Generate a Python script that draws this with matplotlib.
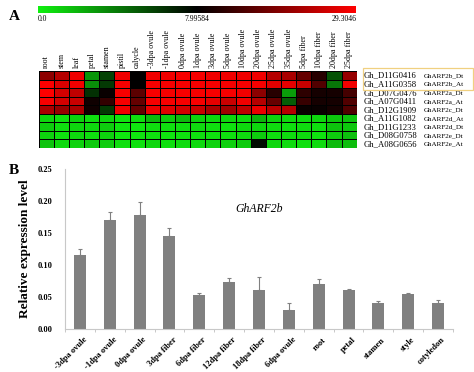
import numpy as np
import matplotlib
matplotlib.use("Agg")
import matplotlib.pyplot as plt
from matplotlib.colors import LinearSegmentedColormap, TwoSlopeNorm
from matplotlib.patches import Rectangle

plt.rcParams["font.family"] = ["Liberation Serif", "DejaVu Serif"]

# Panel A : heatmap
tissus = ["root", "stem", "leaf", "petal", "stamen", "pistil", "calycle",
          "-3dpa ovule", "-1dpa ovule", "0dpa ovule", "1dpa ovule", "3dpa ovule",
          "5dpa ovule", "10dpa ovule", "20dpa ovule", "25dpa ovule", "35dpa ovule",
          "5dpa fiber", "10dpa fiber", "20dpa fiber", "25dpa fiber"]
genes = ["Gh_D11G0416", "Gh_A11G0358", "Gh_D07G0476", "Gh_A07G0411", "Gh_D12G1909",
         "Gh_A11G1082", "Gh_D11G1233", "Gh_D08G0758", "Gh_A08G0656"]
noms = ["GhARF2b_Dt", "GhARF2b_At", "GhARF2a_Dt", "GhARF2a_At", "GhARF2c_Dt",
        "GhARF2d_At", "GhARF2d_Dt", "GhARF2e_Dt", "GhARF2e_At"]
expr = np.array([
    [19.7, 23.0, 28.0, 3.0, 5.8, 28.0, 8.0, 28.0, 28.0, 28.5, 28.5, 28.0, 28.0, 28.0, 28.0, 23.0, 22.0, 16.4, 11.3, 5.3, 20.5],
    [29.0, 26.4, 28.0, 3.3, 6.1, 28.5, 8.0, 28.5, 28.5, 28.5, 28.5, 28.5, 28.5, 28.5, 28.5, 26.8, 27.2, 24.7, 14.7, 4.1, 28.0],
    [29.0, 25.5, 23.9, 6.4, 8.8, 28.5, 15.5, 28.5, 28.5, 28.5, 28.5, 28.5, 28.5, 28.0, 19.7, 11.3, 2.8, 11.8, 9.7, 9.7, 13.8],
    [28.5, 25.5, 24.7, 9.3, 12.2, 28.5, 16.4, 28.5, 28.5, 28.5, 28.5, 27.2, 24.7, 28.0, 23.0, 16.4, 4.9, 12.6, 9.7, 9.7, 14.7],
    [22.2, 20.5, 22.2, 9.3, 6.1, 28.0, 16.4, 27.6, 26.8, 25.5, 24.7, 22.2, 21.4, 23.9, 27.6, 23.4, 23.0, 8.8, 8.8, 9.7, 14.7],
    [0.9, 0.5, 1.0, 0.6, 0.9, 0.4, 0.6, 1.8, 1.2, 1.8, 1.0, 0.8, 0.9, 0.7, 2.0, 1.0, 0.8, 0.7, 0.9, 1.4, 1.5],
    [1.2, 0.6, 0.9, 0.8, 1.2, 0.4, 0.3, 0.6, 0.5, 0.6, 0.7, 0.6, 0.5, 0.8, 0.9, 0.7, 0.6, 0.7, 0.6, 1.5, 1.4],
    [1.0, 0.5, 0.8, 0.6, 1.0, 0.3, 0.4, 0.5, 0.4, 0.5, 0.6, 0.5, 0.6, 0.7, 1.2, 0.6, 0.7, 0.8, 0.5, 1.2, 1.6],
    [1.5, 0.8, 1.0, 1.3, 1.2, 0.6, 0.5, 0.9, 0.6, 0.7, 0.8, 1.0, 1.1, 1.3, 7.6, 0.9, 0.7, 0.6, 0.7, 1.8, 1.7],
])
vmin, vmid, vmax = 0.0, 7.99584, 29.3046

# Panel B : barres
echantillons = ["-3dpa ovule", "-1dpa ovule", "0dpa ovule", "3dpa fiber", "6dpa fiber",
                "12dpa fiber", "18dpa fiber", "6dpa ovule", "root", "petal", "stamen",
                "style", "cotyledon"]
niveau = [0.116, 0.170, 0.178, 0.146, 0.053, 0.074, 0.061, 0.030, 0.070, 0.061, 0.040, 0.054, 0.040]
erreur = [0.009, 0.013, 0.021, 0.012, 0.004, 0.005, 0.021, 0.010, 0.008, 0.001, 0.003, 0.003, 0.005]

W, H = 474, 372
fig = plt.figure(figsize=(W / 100, H / 100), dpi=100)


def boite(x0, y0, x1, y1):
    # pixels (haut-gauche) -> fraction figure
    return [x0 / W, 1 - y1 / H, (x1 - x0) / W, (y1 - y0) / H]


cmap = LinearSegmentedColormap.from_list("gnr", ["#10f010", "#000000", "#ff0000"])
norm = TwoSlopeNorm(vcenter=vmid, vmin=vmin, vmax=vmax)

# barre de couleur
ax_cb = fig.add_axes(boite(38, 6, 356, 13))
ax_cb.imshow(np.linspace(0, 1, 256)[None, :], aspect="auto", cmap=cmap)
ax_cb.set_axis_off()
fig.text(38 / W, 1 - 19 / H, "0.0", fontsize=5.5, va="center", ha="left")
fig.text(197 / W, 1 - 19 / H, "7.99584", fontsize=5.5, va="center", ha="center")
fig.text(357 / W, 1 - 19 / H, "29.3046", fontsize=5.5, va="center", ha="right")

# heatmap
ax_h = fig.add_axes(boite(38.7, 71, 356.7, 148))
ax_h.pcolormesh(expr, cmap=cmap, norm=norm, edgecolors="black", linewidth=0.6)
ax_h.set_xlim(0, len(tissus))
ax_h.set_ylim(len(genes), 0)
ax_h.set_xticks(np.arange(len(tissus)) + 0.5)
ax_h.set_xticklabels(tissus, rotation=90, fontsize=5.8)
ax_h.xaxis.tick_top()
ax_h.tick_params(axis="x", length=0, pad=2)
ax_h.set_yticks([])
for s in ax_h.spines.values():
    s.set_visible(False)

for i, (g, n) in enumerate(zip(genes, noms)):
    ax_h.text(len(tissus) + 0.45, i + 0.55, g, fontsize=6.2, va="center", ha="left")
    ax_h.text(len(tissus) + 4.45, i + 0.55, n, fontsize=5.1, va="center", ha="left")

fig.patches.append(Rectangle((363 / W, 1 - 90 / H), 110 / W, 22 / H, transform=fig.transFigure,
                             fill=False, edgecolor="#f0d080", linewidth=0.9))

fig.text(14 / W, 1 - 17 / H, "A", fontsize=11, fontweight="bold", ha="center", va="center")
fig.text(14 / W, 1 - 170 / H, "B", fontsize=11, fontweight="bold", ha="center", va="center")

# barres
ax = fig.add_axes(boite(65, 169, 453, 329))
x = np.arange(len(echantillons))
ax.bar(x, niveau, width=0.4, color="#808080", zorder=2)
ax.errorbar(x, niveau, yerr=[np.zeros(len(erreur)), erreur], fmt="none", ecolor="#808080",
            elinewidth=0.8, capsize=1.5, capthick=0.8, zorder=2)
ax.set_xlim(-0.5, len(echantillons) - 0.5)
ax.set_ylim(0, 0.25)
ax.set_yticks([0, 0.05, 0.10, 0.15, 0.20, 0.25])
ax.set_yticklabels(["0.00", "0.05", "0.10", "0.15", "0.20", "0.25"], fontsize=6, fontweight="bold")
ax.tick_params(axis="y", length=0, pad=9)
ax.set_xticks(x + 0.1)
ax.set_xticklabels(echantillons, rotation=45, ha="right", rotation_mode="anchor",
                   fontsize=6.1, fontweight="bold")
ax.tick_params(axis="x", length=0, pad=5)
ax.set_xticks(np.arange(len(echantillons) + 1) - 0.5, minor=True)
ax.tick_params(axis="x", which="minor", length=2.5, color="#bfbfbf")
for s in ["top", "right"]:
    ax.spines[s].set_visible(False)
for s in ["left", "bottom"]:
    ax.spines[s].set_color("#c8c8c8")
    ax.spines[s].set_linewidth(0.8)
ax.set_ylabel("Relative expression level", fontsize=9.5, fontweight="bold", labelpad=5)
ax.text(0.5, 0.75, "GhARF2b", transform=ax.transAxes, fontsize=8.5, style="italic",
        ha="center", va="center")

fig.savefig("out.png", dpi=100)
